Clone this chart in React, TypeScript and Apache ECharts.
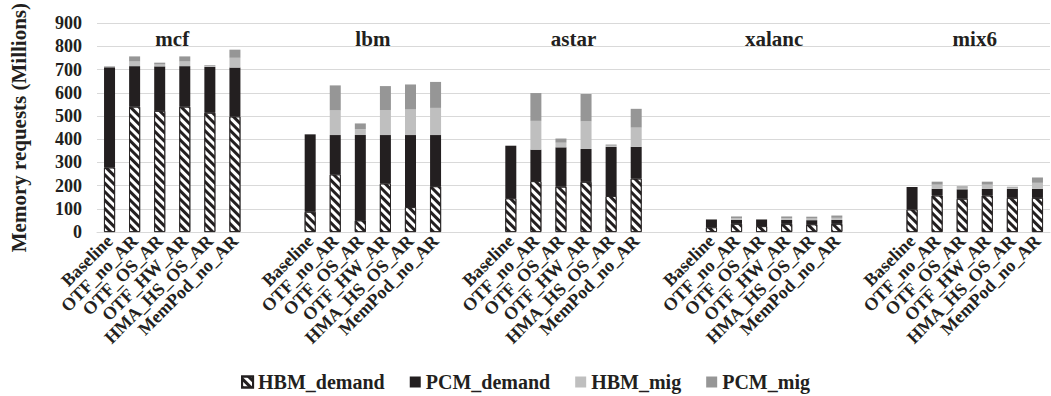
import React, { useEffect, useRef } from "react";
import * as echarts from "echarts";

const groups = ["mcf", "lbm", "astar", "xalanc", "mix6"];
const configs = ["Baseline", "OTF_no_AR", "OTF_OS_AR", "OTF_HW_AR", "HMA_HS_OS_AR", "MemPod_no_AR"];
const seriesNames = ["HBM_demand", "PCM_demand", "HBM_mig", "PCM_mig"];
const yTicks = { min: 0, max: 900, interval: 100 };

// values per group, in config order (millions)
const hbmDemand = [
  [278, 540, 522, 540, 514, 498],
  [87, 248, 50, 209, 107, 197],
  [145, 219, 195, 216, 155, 230],
  [20, 35, 25, 35, 33, 35],
  [97, 157, 143, 157, 147, 147],
];
const pcmDemand = [
  [432, 175, 192, 175, 198, 211],
  [334, 170, 368, 209, 311, 221],
  [227, 136, 170, 142, 212, 137],
  [34, 17, 29, 17, 18, 17],
  [97, 29, 41, 29, 39, 39],
];
const hbmMig = [
  [3, 20, 8, 20, 5, 42],
  [0, 106, 25, 108, 110, 117],
  [0, 124, 20, 119, 5, 83],
  [0, 7, 0, 7, 7, 9],
  [0, 18, 7, 18, 5, 26],
];
const pcmMig = [
  [2, 22, 8, 22, 3, 35],
  [0, 108, 25, 103, 108, 112],
  [0, 120, 18, 118, 5, 81],
  [0, 8, 0, 8, 8, 10],
  [0, 13, 6, 13, 4, 23],
];

const GAP = 2;
const FONT = "Liberation Serif";
const INK = "#231f20";

function buildCategories() {
  const cats: string[] = [];
  groups.forEach((_, g) => {
    configs.forEach((c) => cats.push(c));
    if (g < groups.length - 1) for (let i = 0; i < GAP; i++) cats.push("");
  });
  return cats;
}

function flatten(arr: number[][]) {
  const out: (number | null)[] = [];
  arr.forEach((vals, g) => {
    vals.forEach((v) => out.push(v));
    if (g < arr.length - 1) for (let i = 0; i < GAP; i++) out.push(null);
  });
  return out;
}

export default function App() {
  const ref = useRef<HTMLDivElement>(null);
  useEffect(() => {
    if (!ref.current) return;
    const chart = echarts.init(ref.current, undefined, { renderer: "svg" });
    const categories = buildCategories();
    const dataSets = [hbmDemand, pcmDemand, hbmMig, pcmMig];
    const colors = ["#ffffff", INK, "#bfbfbf", "#969696"];
    const series = seriesNames.map((name, i) => ({
      name,
      type: "bar",
      stack: "total",
      barWidth: 11,
      data: flatten(dataSets[i]),
      itemStyle:
        i === 0
          ? {
              color: "#ffffff",
              borderColor: INK,
              borderWidth: 0.8,
              decal: {
                symbol: "rect",
                color: INK,
                backgroundColor: "#ffffff",
                dashArrayX: [1, 0],
                dashArrayY: [2.2, 2.4],
                rotation: Math.PI / 4,
                symbolSize: 1,
              },
            }
          : { color: colors[i] },
    }));
    const option: any = {
      animation: false,
      grid: { left: 95, right: 1, top: 14, bottom: 164 },
      legend: {
        data: seriesNames,
        top: 367,
        left: "center",
        itemWidth: 11,
        itemHeight: 11,
        itemGap: 25,
        icon: "rect",
        textStyle: { fontFamily: FONT, fontWeight: "bold", fontSize: 20, color: INK },
      },
      xAxis: {
        type: "category",
        data: categories,
        axisLine: { lineStyle: { color: "#d9d9d9" } },
        axisTick: { show: false },
        axisLabel: {
          interval: 0,
          rotate: 45,
          margin: 6,
          fontFamily: FONT,
          fontWeight: "bold",
          fontSize: 18,
          color: INK,
        },
      },
      yAxis: {
        type: "value",
        min: yTicks.min,
        max: yTicks.max,
        interval: yTicks.interval,
        name: "Memory requests (Millions)",
        nameLocation: "middle",
        nameGap: 68,
        nameTextStyle: { fontFamily: FONT, fontWeight: "bold", fontSize: 21, color: INK },
        axisLine: { show: false },
        axisTick: { show: false },
        splitLine: { lineStyle: { color: "#d9d9d9" } },
        axisLabel: { margin: 15, fontFamily: FONT, fontWeight: "bold", fontSize: 18, color: INK },
      },
      series,
    };
    chart.setOption(option);
    const step = configs.length + GAP;
    const graphic = groups.map((g, gi) => {
      const x0 = chart.convertToPixel({ xAxisIndex: 0 }, gi * step) as number;
      const x1 = chart.convertToPixel({ xAxisIndex: 0 }, gi * step + configs.length - 1) as number;
      const y = chart.convertToPixel({ yAxisIndex: 0 }, 830) as number;
      return {
        type: "text",
        x: (x0 + x1) / 2,
        y,
        style: {
          text: g,
          fontFamily: FONT,
          fontWeight: "bold",
          fontSize: 21,
          fill: INK,
          align: "center",
          verticalAlign: "middle",
        },
      };
    });
    chart.setOption({ graphic });
    return () => chart.dispose();
  }, []);
  return (
    <div
      ref={ref}
      style={{ position: "fixed", left: 0, top: 0, width: 1051, height: 396, background: "#fff" }}
    />
  );
}
